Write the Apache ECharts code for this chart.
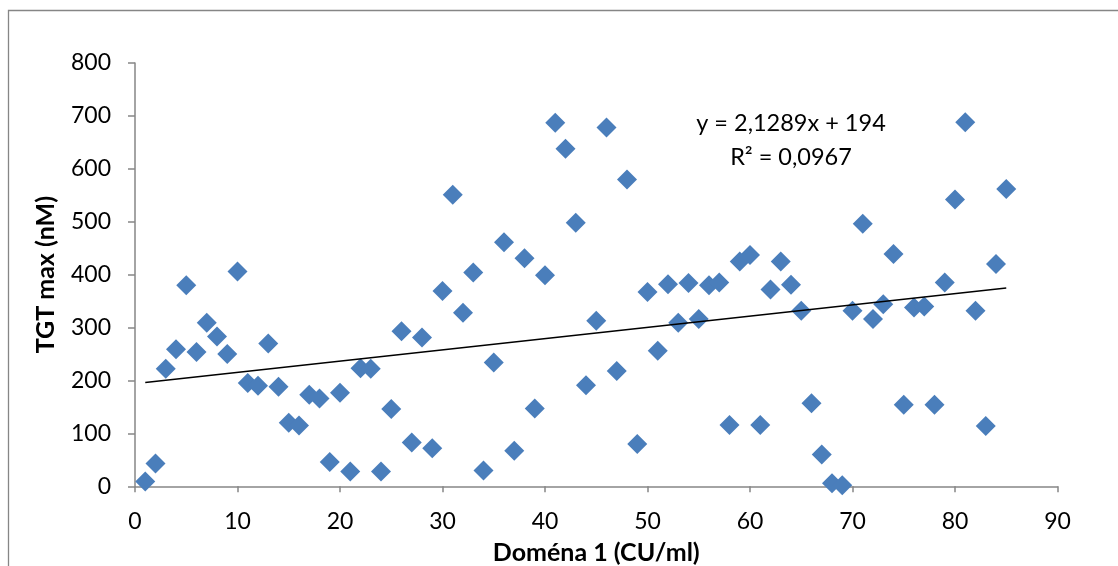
<!DOCTYPE html>
<html>
<head>
<meta charset="utf-8">
<script src="https://cdn.jsdelivr.net/npm/echarts@6/dist/echarts.min.js"></script>
<style>
html,body{margin:0;padding:0;background:#fff;}
#chart{width:1118px;height:566px;}
</style>
</head>
<body>
<div id="chart"></div>
<script>
const xValues = [1,2,3,4,5,6,7,8,9,10,11,12,13,14,15,16,17,18,19,20,21,22,23,24,25,26,27,28,29,30,31,32,33,34,35,36,37,38,39,40,41,42,43,44,45,46,47,48,49,50,51,52,53,54,55,56,57,58,59,60,61,62,63,64,65,66,67,68,69,70,71,72,73,74,75,76,77,78,79,80,81,82,83,84,85];
const yValues = [9,43,222,259,380,254,309,283,250,406,195,190,270,188,120,115,173,166,46,177,28,223,222,28,146,293,83,281,72,369,551,328,404,30,234,461,67,431,147,399,687,638,498,191,313,678,218,580,80,367,256,382,309,384,316,380,385,116,425,437,116,372,425,381,332,157,60,6,2,332,496,316,344,439,154,338,340,154,385,542,688,332,114,420,562];
const xTicks = [0,10,20,30,40,50,60,70,80,90];
const yTicks = [0,100,200,300,400,500,600,700,800];
const trendSlope = 2.1289;
const trendIntercept = 194;
const trendX = [1, 85];
const equationText = "y = 2,1289x + 194";
const r2Text = "R² = 0,0967";
const xName = "Doména 1 (CU/ml)";
const yName = "TGT max (nM)";

const points = xValues.map((x, i) => [x, yValues[i]]);
const trend = trendX.map(x => [x, trendSlope * x + trendIntercept]);

const chart = echarts.init(document.getElementById('chart'), null, {renderer: 'canvas'});
const font = 'Lato, "Open Sans", sans-serif';
const axisColor = '#868686';
chart.setOption({
  animation: false,
  backgroundColor: '#fff',
  grid: {left: 135, top: 63, right: 60.5, bottom: 79.7, containLabel: false, outerBoundsMode: 'none'},
  xAxis: {
    type: 'value', min: xTicks[0], max: xTicks[xTicks.length - 1], interval: 10,
    axisLine: {show: true, lineStyle: {color: axisColor, width: 1.5}},
    axisTick: {show: true, length: 6, lineStyle: {color: axisColor, width: 1.5}},
    splitLine: {show: false},
    axisLabel: {color: '#000', fontSize: 23, fontFamily: font, margin: 24},
    name: xName, nameLocation: 'middle', nameGap: 54,
    nameTextStyle: {color: '#000', fontSize: 25, fontWeight: 'bold', fontFamily: font}
  },
  yAxis: {
    type: 'value', min: yTicks[0], max: yTicks[yTicks.length - 1], interval: 100,
    axisLine: {show: true, lineStyle: {color: axisColor, width: 1.5}},
    axisTick: {show: true, length: 7, lineStyle: {color: axisColor, width: 1.5}},
    splitLine: {show: false},
    axisLabel: {color: '#000', fontSize: 23, fontFamily: font, margin: 24},
    name: yName, nameLocation: 'middle', nameGap: 77, nameRotate: 90,
    nameTextStyle: {color: '#000', fontSize: 25, fontWeight: 'bold', fontFamily: font}
  },
  series: [
    {
      type: 'scatter', data: points, symbol: 'diamond', symbolSize: 20,
      itemStyle: {color: '#4A7EBB', opacity: 1}, z: 3
    },
    {
      type: 'line', data: trend, symbol: 'none', showSymbol: false,
      lineStyle: {color: '#000', width: 1.5}, z: 4, silent: true
    }
  ],
  graphic: [
    {type: 'rect', shape: {x: 8.5, y: 10.5, width: 1200, height: 700}, style: {fill: 'none', stroke: axisColor, lineWidth: 1.3}, silent: true, z: -1},
    {type: 'text', x: 791, y: 123, style: {text: equationText, font: '23.5px ' + font, fill: '#000', textAlign: 'center', textVerticalAlign: 'middle'}},
    {type: 'text', x: 791, y: 157, style: {text: r2Text, font: '23.5px ' + font, fill: '#000', textAlign: 'center', textVerticalAlign: 'middle'}}
  ]
});
</script>
</body>
</html>
